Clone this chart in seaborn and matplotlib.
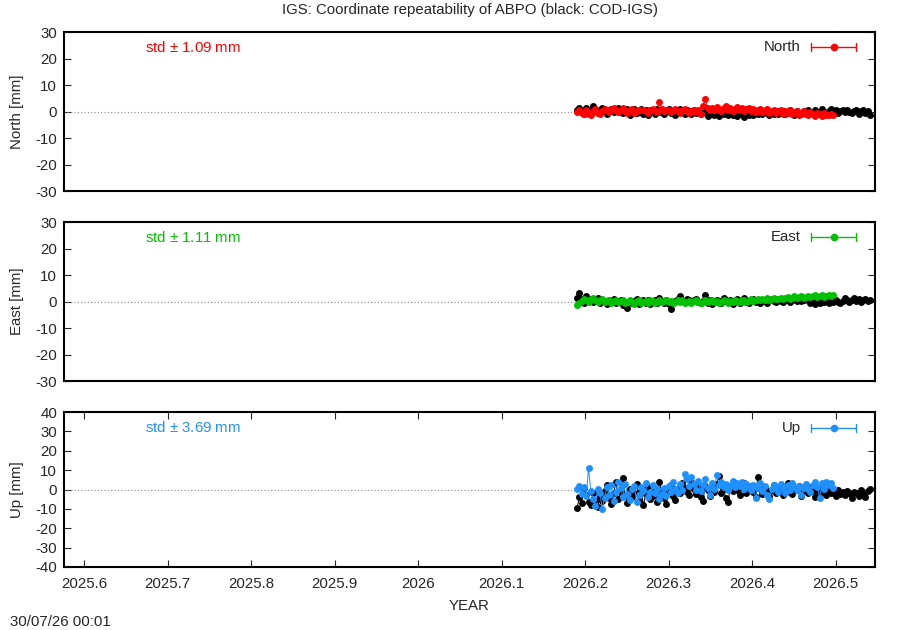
import numpy as np
import pandas as pd
import seaborn as sns
import matplotlib.pyplot as plt

# day-of-year epochs in 2026 (daily solutions)
doy_ref = list(range(70, 199))   # COD-IGS (black)
doy_sol = list(range(70, 183))   # IGS solution (colour)

north_ref = [0.5, 1.2, 0.3, -0.8, 1.5, 0.6, -0.4, 2.0, 0.8, -0.6,
             0.4, 1.3, 0.2, -0.9, 0.7, 1.1, -0.3, 0.5, 1.4, 0.0,
             -0.7, 0.6, 1.0, -1.2, 0.3, 0.9, -0.5, 0.2, 1.1, -0.8,
             0.4, -1.3, 0.6, 0.1, -0.9, 0.8, -0.2, 0.5, -1.0, 0.3,
             0.9, -0.6, 0.2, -1.4, 0.4, 1.0, -0.3, -1.1, 0.6, 0.1,
             -0.8, 0.5, -0.4, 0.2, -1.0, -0.3, 0.4, -1.6, -0.9, -0.2,
             -1.3, -0.6, -1.8, -0.4, -1.1, -0.7, -1.5, -0.2, -1.2, -0.8,
             -1.6, -0.5, -1.0, -1.9, -0.3, -1.2, -0.6, -1.4, 0.0, -0.9,
             -0.4, -1.1, 0.2, -0.7, -1.3, -0.2, -0.8, 0.3, -1.0, -0.5,
             0.1, -0.9, -0.3, 0.4, -0.6, -1.2, 0.2, -0.4, -0.9, 0.3,
             -0.5, 0.5, -0.2, -0.8, 0.6, 0.0, -0.4, 1.1, -0.1, -0.6,
             0.3, 0.8, -0.2, 0.5, -0.5, 0.2, 0.7, -0.3, 0.4, 0.0,
             -0.6, 0.3, 0.5, -0.8, 0.1, 0.6, -0.4, 0.2, -1.5]
north_sol = [0.0, 0.5, -0.5, -1.0, 0.5, -0.8, -1.2, 0.3, 0.8, -0.5,
             -1.0, 0.2, 1.0, 0.5, -0.3, 0.8, 1.5, 0.6, -0.2, 0.4,
             1.2, 0.3, -0.6, 0.5, 0.9, -0.4, 0.2, 0.7, 0.4, 0.5,
             0.1, -0.5, 0.6, 1.0, 0.2, -0.3, 3.5, 0.8, 0.3, 0.6,
             0.4, -0.2, 0.5, 1.1, 0.3, -0.4, 0.6, 0.9, 0.2, -0.6,
             0.3, 0.7, -0.2, 0.5, -0.8, 2.2, 4.6, 1.2, 0.6, 1.5,
             0.4, 1.8, 0.9, 0.2, 1.3, 2.0, 0.7, 1.5, 0.3, 1.1,
             1.7, 0.5, 1.2, 0.1, 0.9, 1.4, 0.2, 0.8, -0.3, 0.6,
             1.0, -0.2, 0.5, 0.9, -0.5, 0.3, 0.7, -0.6, 0.1, 0.4,
             -0.8, 0.2, -0.4, 0.6, -1.0, -0.2, 0.3, -1.2, -0.5, 0.1,
             -0.9, -1.4, -0.3, -0.8, -1.6, -0.6, -1.1, -1.8, -0.7, -1.3,
             -1.5, -0.9, -1.2]

east_ref = [1.5, 3.2, 0.8, -0.6, 1.9, 0.4, 1.0, -0.2, 0.7, 1.3,
            -0.5, 0.6, 0.2, -0.9, 0.5, -0.3, 0.8, -0.7, 0.1, 0.4,
            -1.2, -0.4, -2.4, 0.3, -0.6, 0.2, 0.9, -0.8, -0.2, 0.5,
            -0.5, 0.7, -1.0, -0.3, 0.4, -0.7, 1.5, 0.2, -0.4, 0.6,
            -1.1, -2.8, -0.5, 0.3, 0.8, 2.0, 0.5, -0.2, 1.1, 0.6,
            -0.3, 0.4, 1.0, 0.0, -0.6, 0.2, 2.3, -0.4, 0.5, -0.8,
            -0.2, 0.7, 0.1, -0.5, 1.2, 0.3, -0.3, 0.6, -0.9, 0.2,
            0.8, -0.4, 0.5, 1.4, 0.0, -0.6, 0.4, 0.9, -0.2, 0.3,
            -0.7, 0.6, 0.1, -0.5, 0.5, 1.0, 0.2, -0.3, 0.7, 0.3,
            0.0, 0.8, 0.4, -0.2, 0.6, 1.1, 0.3, 0.7, 0.1, 0.5,
            1.0, 0.4, -0.6, 0.2, -0.8, 0.3, -0.4, 0.1, -0.2, 0.6,
            -0.5, 0.2, -0.3, 0.5, 0.0, -0.6, 0.3, 1.2, 0.4, -0.2,
            0.6, 1.3, 0.2, 0.8, 0.0, 0.5, 1.0, 0.3, 0.6]
east_sol = [-1.2, -0.5, 0.3, 1.0, 0.6, -0.2, 0.8, 1.2, 0.4, -0.3,
            0.5, 0.9, -0.1, 0.3, 0.7, -0.4, 0.2, 0.6, -0.2, 0.1,
            0.4, -0.5, 0.0, 0.6, -0.3, -0.8, 0.2, 0.5, -0.6, -0.1,
            0.3, -0.4, 0.5, 0.1, -0.7, -0.2, 0.4, -0.3, 0.2, 0.6,
            -0.1, 0.3, -0.5, 0.0, 0.4, -0.2, 0.5, -0.6, -0.1, 0.3,
            -0.4, 0.2, 0.6, -0.3, -0.7, 0.0, 0.4, -0.2, 0.3, 0.5,
            -0.1, 0.2, -0.5, -0.2, 0.4, 0.1, -0.4, 0.3, -0.1, 0.5,
            0.2, -0.3, 0.4, 0.6, 0.0, 0.3, 0.8, 0.2, 0.5, 1.0,
            0.4, 0.9, 0.6, 1.2, 0.7, 1.0, 1.4, 0.8, 1.1, 1.5,
            1.0, 1.3, 1.7, 1.1, 1.5, 1.9, 1.3, 1.6, 2.0, 1.4,
            1.8, 2.2, 1.6, 1.9, 2.4, 1.7, 2.1, 2.5, 1.8, 2.2,
            2.6, 1.9, 2.3]

up_ref = [-9.5, -4.0, -7.0, 1.0, -3.0, -6.5, -8.0, -2.0, -5.5, -9.0,
          -3.5, -6.0, -1.0, 2.5, -4.5, -7.5, -2.0, 4.0, -5.0, -1.5,
          6.0, -3.0, -7.0, 0.5, -4.0, -2.0, 3.0, -6.0, -1.0, -8.0,
          -2.5, 1.5, -5.0, -3.5, 0.0, -6.5, 4.0, -2.0, -4.5, -7.5,
          -1.0, 2.5, -3.5, -5.5, 0.5, -2.0, 3.5, 1.0, -1.5, -3.0,
          4.0, 0.5, -2.5, 1.5, -4.0, -6.0, 2.0, 0.0, -3.5, 1.0,
          -1.5, 3.0, 7.0, -2.0, 0.5, -4.5, -6.5, 1.5, -1.0, 2.5,
          -0.5, -3.0, 1.0, 3.5, -2.0, 0.0, 2.0, -1.5, -4.0, 6.5,
          0.5, -2.5, 1.5, -1.0, -3.5, 0.0, 2.5, -2.0, -0.5, 1.0,
          -3.0, 0.5, 3.5, -1.5, -2.5, 1.0, -0.5, 2.0, -3.5, -1.0,
          0.5, -2.0, 1.5, -1.0, -4.0, 0.0, -2.5, 1.0, -1.5, -3.0,
          -0.5, -2.0, -1.0, -3.5, -0.5, -2.5, -1.5, -3.0, -1.0, -2.0,
          -4.5, -1.5, -2.0, -3.5, -0.5, -2.5, -4.0, -1.0, 0.5]
up_sol = [0.5, 2.0, -2.5, 1.5, -3.5, 11.0, -1.0, -5.0, -8.5, 0.5,
          -2.0, -10.0, -4.5, 1.5, -3.0, 2.5, -6.0, -1.5, 4.0, 1.0,
          -4.0, 3.0, -2.5, -5.5, 0.5, 2.0, -6.5, -3.0, 1.5, -1.0,
          3.5, -4.0, -1.5, 2.5, -2.0, 0.5, -5.0, -2.5, 1.0, -3.5,
          2.0, -1.5, 4.0, 0.5, -2.0, 3.0, -0.5, 8.0, 5.5, 2.0,
          6.5, 3.0, 0.0, 4.5, -1.0, 2.5, 5.5, 1.0, -3.0, 3.5,
          0.5, 7.5, 2.5, 4.0, 1.5, 3.0, 0.0, 2.0, 4.5, 1.5,
          3.5, 2.0, 4.0, 0.5, 3.0, 1.5, -0.5, 2.5, -4.5, 1.0,
          3.5, -1.0, 2.0, -3.0, -5.0, 0.5, 2.5, 1.5, -1.5, 3.0,
          1.0, -2.0, 2.5, 0.0, 3.5, 1.5, -0.5, 2.0, -3.0, 1.0,
          3.0, 0.5, -1.5, 2.5, 4.0, 1.5, -4.5, 3.5, 0.5, 4.0,
          2.5, 3.5, 1.0]

components = ['North', 'East', 'Up']
colors = ['#ff0000', '#00c000', '#1e90ff']
std_values = [1.09, 1.11, 3.69]
ylims = [(-30, 30), (-30, 30), (-40, 40)]
xticks = [2025.6, 2025.7, 2025.8, 2025.9, 2026.0, 2026.1, 2026.2, 2026.3, 2026.4, 2026.5]
xtick_labels = ['2025.6', '2025.7', '2025.8', '2025.9', '2026', '2026.1', '2026.2', '2026.3', '2026.4', '2026.5']

t_ref = 2026 + (np.array(doy_ref) - 0.5) / 365.0
t_sol = 2026 + (np.array(doy_sol) - 0.5) / 365.0
refs = [north_ref, east_ref, up_ref]
sols = [north_sol, east_sol, up_sol]

sns.set_style('white')
plt.rcParams['font.family'] = ['Liberation Sans', 'DejaVu Sans']
plt.rcParams['font.size'] = 10.5
plt.rcParams['axes.unicode_minus'] = False
plt.rcParams['mathtext.default'] = 'regular'

fs = 10.8
fig = plt.figure(figsize=(9, 6.3), dpi=100)
boxes = [[0.0711, 0.6968, 0.901, 0.2524],
         [0.0711, 0.3952, 0.901, 0.2524],
         [0.0711, 0.1000, 0.901, 0.2460]]

for i, comp in enumerate(components):
    ax = fig.add_axes(boxes[i])
    ax.axhline(0, color='#888888', linestyle=(0, (1, 2)), linewidth=0.8, zorder=1)
    sns.lineplot(x=t_ref, y=refs[i], ax=ax, color='black', marker='o', markersize=5,
                 markeredgewidth=0, linewidth=0.7, sort=False, estimator=None, zorder=2)
    sns.lineplot(x=t_sol, y=sols[i], ax=ax, color=colors[i], marker='o', markersize=5,
                 markeredgewidth=0, linewidth=0.7, sort=False, estimator=None, zorder=3)
    ax.set_xlim(2025.576, 2026.547)
    ax.set_ylim(*ylims[i])
    lo, hi = ylims[i]
    ax.set_yticks(np.arange(lo, hi + 1, 10))
    ax.set_xticks(xticks)
    ax.tick_params(axis='y', direction='in', length=5, left=True, right=True, labelsize=fs, pad=5)
    if i < 2:
        ax.tick_params(axis='x', bottom=False, labelbottom=False)
    else:
        ax.set_xticklabels(xtick_labels)
        ax.tick_params(axis='x', direction='in', length=5, bottom=True, top=True, labelsize=fs, pad=7)
        ax.set_xlabel('YEAR', fontsize=fs, labelpad=6)
    ax.set_ylabel(f'{comp} [mm]', fontsize=fs, labelpad=8)
    for spine in ax.spines.values():
        spine.set_visible(True)
        spine.set_color('black')
        spine.set_linewidth(1.5)
    ypos = 0.905 if i < 2 else 0.897
    ax.text(0.1, ypos, f'std $\\pm$ {std_values[i]:.2f} mm', transform=ax.transAxes,
            color=colors[i], fontsize=fs, ha='left', va='center')
    ax.text(0.909, ypos, comp, transform=ax.transAxes, fontsize=fs, ha='right', va='center')
    # errorbar-style legend sample
    ax.plot([0.921, 0.977], [ypos, ypos], color=colors[i], linewidth=1, transform=ax.transAxes)
    ax.plot([0.921, 0.921], [ypos - 0.025, ypos + 0.025], color=colors[i], linewidth=1, transform=ax.transAxes)
    ax.plot([0.977, 0.977], [ypos - 0.025, ypos + 0.025], color=colors[i], linewidth=1, transform=ax.transAxes)
    ax.plot([0.949], [ypos], marker='o', markersize=4.5, color=colors[i], transform=ax.transAxes)

fig.text(0.522, 0.984, 'IGS: Coordinate repeatability of ABPO (black: COD-IGS)',
         ha='center', va='center', fontsize=fs)
fig.text(0.011, 0.012, '30/07/26 00:01', ha='left', va='center', fontsize=fs)

plt.savefig('out.png', dpi=100)
